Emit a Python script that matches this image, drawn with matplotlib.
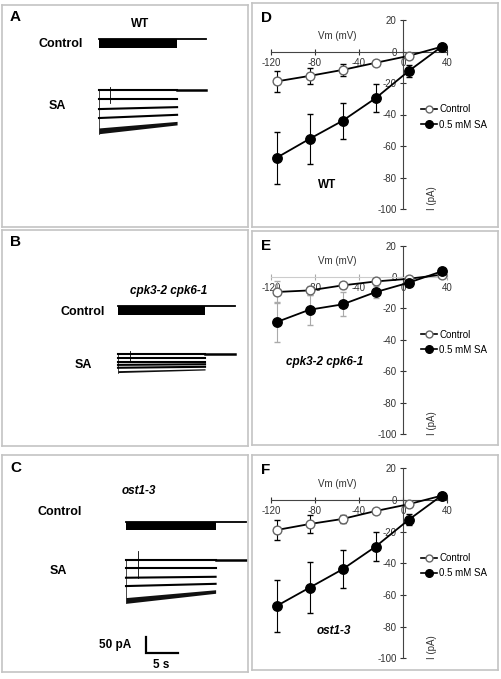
import matplotlib
matplotlib.use("Agg")
from matplotlib import pyplot as plt
from matplotlib.lines import Line2D
import numpy as np

plt.rcParams['font.family'] = ['Liberation Sans', 'DejaVu Sans']
plt.rcParams['axes.unicode_minus'] = False

W, H = 501, 679

# ---- I-V data (Vm in mV, I in pA) ----
vm = [-115, -85, -55, -25, 5, 35]

wt_ctrl = [-19, -15.5, -11.7, -7.2, -2.8, 3.0]
wt_ctrl_err = [6.8, 5.3, 3.7, 1.2, 0.6, 0.5]
wt_sa = [-67.5, -55.5, -44, -29.7, -12.5, 3.0]
wt_sa_err = [16.4, 15.8, 11.6, 8.8, 4.0, 0.5]

cpk_ctrl = [-9.5, -8.5, -5.3, -2.8, -1.1, 1.5]
cpk_ctrl_err = [7.0, 3.0, 2.0, 1.0, 0.5, 0.5]
cpk_sa = [-28.7, -20.8, -17.4, -9.6, -3.6, 3.6]
cpk_sa_err = [12.7, 9.6, 7.6, 3.6, 1.0, 0.5]

ost_ctrl = [-19, -15.2, -12, -7, -2.7, 2.7]
ost_ctrl_err = [6.4, 5.6, 2.6, 1.0, 0.5, 0.5]
ost_sa = [-67, -55.4, -43.8, -29.5, -12.6, 2.7]
ost_sa_err = [16.4, 16.0, 12.0, 9.0, 3.5, 0.5]

xticks = [-120, -80, -40, 0, 40]
yticks = [20, 0, -20, -40, -60, -80, -100]

# ---- current traces (s, pA) ----
# sweep duration, tail after pulse
dur_A, tail_A = 12.2, 4.5
dur_B, tail_B = 13.6, 4.7
dur_C, tail_C = 14.0, 4.8
ctrl_h = [28, 28, 26]           # height of dense control block (pA)
# SA sweep levels relative to top trace, start / end of pulse
sa_A_start = [0, -26, -58, -86, -126]
sa_A_end = [0, -26, -52, -76, -102]
sa_B_start = [0, -11.5, -24, -34, -43, -55]
sa_B_end = [0, -11.5, -24, -32, -40, -48]
sa_C_start = [0, -28, -57, -83, -128]
sa_C_end = [0, -28, -54, -76, -100]
thick_start = [18, 6, 18]       # noisy band width of the last sweep
thick_end = [11, 4, 11]

PX_S = 6.4      # px per second
PA_PX = 3.125   # pA per px

fig = plt.figure(figsize=(W / 100, H / 100), dpi=100)


def add_ax(x0, y0, x1, y1):
    return fig.add_axes([x0 / W, 1 - y1 / H, (x1 - x0) / W, (y1 - y0) / H])


def ftxt(px, py, s, **kw):
    fig.text(px / W, 1 - py / H, s, **kw)


def frame(ax):
    for sp in ax.spines.values():
        sp.set_color('#c4c4c4')
        sp.set_linewidth(1.2)
    ax.set_xticks([])
    ax.set_yticks([])


def trace_panel(box, t0px, ctrl_py, sa_py, dur, tail, ch, s_start, s_end,
                th0, th1, art_px, art_up, art_dn):
    ax = add_ax(*box)
    frame(ax)
    bw = box[2] - box[0]
    bh = box[3] - box[1]
    ax.set_xlim(0, bw / PX_S)
    ax.set_ylim(-bh * PA_PX, 0)
    t0 = (t0px - box[0]) / PX_S
    yc = -(ctrl_py - box[1]) * PA_PX
    ys = -(sa_py - box[1]) * PA_PX
    # control: dense block + tail
    ax.fill_between([t0, t0 + dur], [yc, yc], [yc - ch, yc - ch],
                    color='black', lw=0)
    ax.plot([t0, t0 + dur + tail], [yc, yc], color='black', lw=1.3)
    # SA sweeps
    n = len(s_start)
    for i in range(n):
        a, b = ys + s_start[i], ys + s_end[i]
        if i == n - 1:
            ax.fill_between([t0, t0 + dur], [a + th0 / 2, b + th1 / 2],
                            [a - th0 / 2, b - th1 / 2], color='#111111',
                            lw=0)
        else:
            ax.plot([t0, t0 + dur], [a, b], color='black', lw=1.5)
    ax.plot([t0 + dur, t0 + dur + tail], [ys, ys], color='black', lw=1.8)
    bottom = ys + s_start[-1] - th0 / 2
    ax.plot([t0, t0], [ys, bottom], color='black', lw=0.5)
    ax.plot([t0 + art_px / PX_S] * 2, [ys + art_up, ys + art_dn],
            color='black', lw=0.6)
    return ax


# A
trace_panel((2, 5, 248, 227), 99, 39, 90.5, dur_A, tail_A, ctrl_h[0],
            sa_A_start, sa_A_end, thick_start[0], thick_end[0], 11, 10, -40)
ftxt(10, 17, 'A', fontsize=11, fontweight='bold', va='center')
ftxt(140, 24, 'WT', fontsize=8.5, fontweight='bold', ha='center', va='center')
ftxt(61, 44, 'Control', fontsize=9, fontweight='bold', ha='center', va='center')
ftxt(57, 106, 'SA', fontsize=9, fontweight='bold', ha='center', va='center')

# B
trace_panel((2, 230, 248, 446), 118, 306, 354, dur_B, tail_B, ctrl_h[1],
            sa_B_start, sa_B_end, thick_start[1], thick_end[1], 12, 8, -25)
ftxt(10, 242, 'B', fontsize=11, fontweight='bold', va='center')
ftxt(169, 291, 'cpk3-2 cpk6-1', fontsize=8.5, fontweight='bold',
     style='italic', ha='center', va='center')
ftxt(83, 312, 'Control', fontsize=9, fontweight='bold', ha='center', va='center')
ftxt(83, 365, 'SA', fontsize=9, fontweight='bold', ha='center', va='center')

# C
axC = trace_panel((2, 455, 248, 672), 126, 521.5, 559.5, dur_C, tail_C,
                  ctrl_h[2], sa_C_start, sa_C_end, thick_start[2],
                  thick_end[2], 12, 28, -59)
# scale bar 50 pA / 5 s
sb_x = (146 - 2) / PX_S
sb_y = -(653 - 455) * PA_PX
axC.plot([sb_x, sb_x, sb_x + 5], [sb_y + 50, sb_y, sb_y], color='black',
         lw=1.6, solid_joinstyle='miter')
ftxt(10, 468, 'C', fontsize=11, fontweight='bold', va='center')
ftxt(139, 491, 'ost1-3', fontsize=8.5, fontweight='bold', style='italic',
     ha='center', va='center')
ftxt(60, 512, 'Control', fontsize=9, fontweight='bold', ha='center', va='center')
ftxt(58, 571, 'SA', fontsize=9, fontweight='bold', ha='center', va='center')
ftxt(131, 645, '50 pA', fontsize=8.5, fontweight='bold', ha='right', va='center')
ftxt(161, 665, '5 s', fontsize=8.5, fontweight='bold', ha='center', va='center')


# ---- I-V panels ----
def iv_panel(box, axbox, letter, ctrl, ctrl_err, sa, sa_err, label, lab_xy,
             italic, faint=False):
    fr = add_ax(*box)
    frame(fr)
    fig.text((box[0] + 9) / W, 1 - (box[1] + 15) / H, letter, fontsize=11,
             fontweight='bold', va='center')
    ax = add_ax(*axbox)
    ax.patch.set_alpha(0)
    ax.set_xlim(-120, 40)
    ax.set_ylim(-100, 20)
    ax.spines['left'].set_position(('data', 0))
    ax.spines['bottom'].set_position(('data', 0))
    ax.spines['top'].set_visible(False)
    ax.spines['right'].set_visible(False)
    ax.spines['left'].set_color('#444444')
    ax.spines['bottom'].set_color('#cccccc' if faint else '#444444')
    ax.set_xticks(xticks)
    ax.set_yticks(yticks)
    ax.tick_params(direction='inout', length=5, width=0.8, labelsize=7,
                   colors='#333333', pad=2)
    if faint:
        ax.tick_params(axis='x', color='#aaaaaa')
    ecol = '#aaaaaa' if faint else 'black'
    ax.errorbar(vm, ctrl, yerr=ctrl_err, fmt='o-', color='black', mfc='white',
                mec='#666666', ms=6.3, lw=1.3, elinewidth=0.8, capsize=2,
                ecolor=ecol, clip_on=False, zorder=3)
    ax.errorbar(vm, sa, yerr=sa_err, fmt='o-', color='black', mfc='black',
                mec='black', ms=6.8, lw=1.3, elinewidth=0.8, capsize=2,
                ecolor=ecol, clip_on=False, zorder=3)
    ax.text(-60, 10, 'Vm (mV)', fontsize=7, ha='center', va='center',
            color='#333333')
    ax.text(26, -93, 'I (pA)', fontsize=7, ha='center', va='center',
            rotation=90, color='#333333')
    ax.text(lab_xy[0], lab_xy[1], label, fontsize=8.5, fontweight='bold',
            style='italic' if italic else 'normal', ha='center', va='center')
    handles = [
        Line2D([], [], color='black', lw=1.2, marker='o', mfc='white',
               mec='#666666', ms=5),
        Line2D([], [], color='black', lw=1.2, marker='o', mfc='black',
               mec='black', ms=5.5),
    ]
    ax.legend(handles, ['Control', '0.5 mM SA'], loc='center left',
              bbox_to_anchor=(16, -41.5), bbox_transform=ax.transData,
              frameon=False, fontsize=7, handlelength=1.7, handletextpad=0.2,
              labelspacing=0.55, borderaxespad=0, borderpad=0)
    return ax


iv_panel((252, 3, 498, 227), (271, 20, 447, 209), 'D', wt_ctrl, wt_ctrl_err,
         wt_sa, wt_sa_err, 'WT', (-69, -85), False)
iv_panel((252, 231, 498, 445), (271, 245.7, 447, 434), 'E', cpk_ctrl,
         cpk_ctrl_err, cpk_sa, cpk_sa_err, 'cpk3-2 cpk6-1', (-71, -54), True,
         faint=True)
iv_panel((252, 455, 498, 670), (271, 468.3, 447, 658.3), 'F', ost_ctrl,
         ost_ctrl_err, ost_sa, ost_sa_err, 'ost1-3', (-63, -83), True)

fig.savefig('out.png', dpi=100)
